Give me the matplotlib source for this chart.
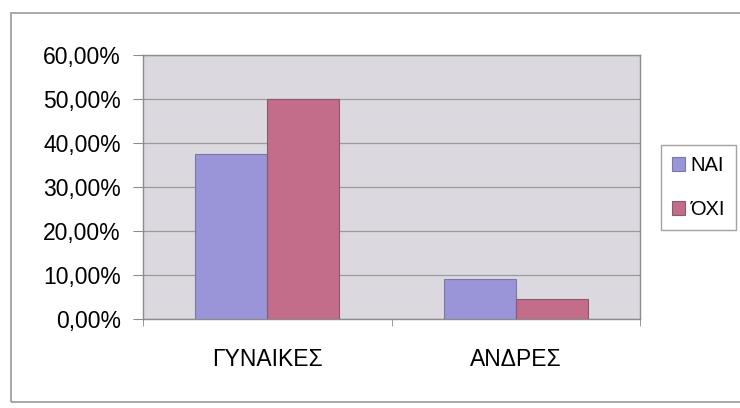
import matplotlib
matplotlib.use("Agg")
import matplotlib.pyplot as plt
from matplotlib.patches import Rectangle
from matplotlib.ticker import FuncFormatter
import numpy as np

categories = ["ΓΥΝΑΙΚΕΣ", "ΑΝΔΡΕΣ"]
series_names = ["NAI", "ΌΧΙ"]
nai_values = [37.5, 9.0]
oxi_values = [50.0, 4.5]
y_ticks = [0, 10, 20, 30, 40, 50, 60]

plt.rcParams['font.family'] = ['Liberation Sans', 'DejaVu Sans']

W, H = 740, 408
fig = plt.figure(figsize=(W / 100, H / 100), dpi=100)
fig.patch.set_facecolor('white')

# outer chart border
fig.patches.append(Rectangle((11 / W, 1 - 402 / H), 740 / W, (402 - 13) / H,
                             transform=fig.transFigure, fill=False,
                             edgecolor='#9a9a9a', linewidth=1.2))

ax = fig.add_axes([143 / W, 1 - 319 / H, (640 - 143) / W, (319 - 55) / H])
ax.set_facecolor('#dcd8df')

x = np.arange(len(categories))
bw = 0.29
b1 = ax.bar(x - bw / 2, nai_values, bw, color='#9a94d8', edgecolor='#7a78a8',
            linewidth=0.8, label=series_names[0], zorder=3)
b2 = ax.bar(x + bw / 2, oxi_values, bw, color='#c36d8a', edgecolor='#8a5a6a',
            linewidth=0.8, label=series_names[1], zorder=3)

ax.set_xlim(-0.5, 1.5)
ax.set_ylim(0, 60)
ax.set_yticks(y_ticks)
ax.yaxis.set_major_formatter(FuncFormatter(lambda v, p: f"{v:.2f}%".replace('.', ',')))
ax.grid(axis='y', color='#9a9a9a', linewidth=0.9, zorder=1)

ax.set_xticks(x)
ax.set_xticklabels(categories)
ax.set_xticks([-0.5, 0.5, 1.5], minor=True)
ax.tick_params(axis='x', which='major', length=0, pad=21, labelsize=16.5)
ax.tick_params(axis='x', which='minor', length=5, color='#8c8c8c')
ax.tick_params(axis='y', length=7, color='#8c8c8c', labelsize=16.5, pad=9)

for s in ax.spines.values():
    s.set_color('#8c8c8c')
    s.set_linewidth(1.0)

leg = fig.legend(handles=[b1, b2], labels=series_names, loc='upper left',
                 bbox_to_anchor=(661 / W, 1 - 145 / H), frameon=True,
                 fontsize=14.5, handlelength=0.65, handleheight=0.65,
                 handletextpad=0.25, labelspacing=1.25, borderpad=0.55,
                 fancybox=False, borderaxespad=0)
leg._legend_box.align = 'left'
leg.get_frame().set_edgecolor('#8c8c8c')
leg.get_frame().set_linewidth(1.0)

fig.savefig('out.png', dpi=100)
